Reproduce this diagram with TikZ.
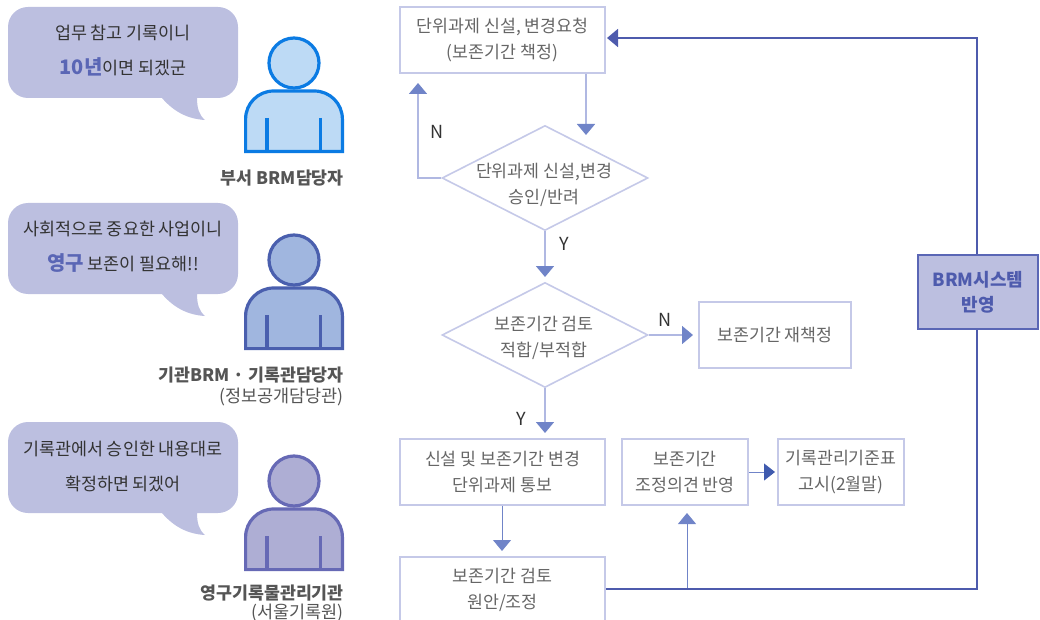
\documentclass[tikz,border=0pt]{standalone}
\usepackage{fontspec}
\setmainfont{Noto Sans CJK KR}
\usetikzlibrary{arrows.meta,shapes.geometric}
\definecolor{bub}{HTML}{BCBFE0}
\definecolor{hi}{HTML}{5A66B5}
\definecolor{boxline}{HTML}{C5C9E8}
\definecolor{txt}{HTML}{666666}
\definecolor{lab}{HTML}{555555}
\definecolor{tipc}{HTML}{7084C8}
\definecolor{linec}{HTML}{B0B8E2}
\definecolor{dark}{HTML}{4E5BAD}
\definecolor{tipdark}{HTML}{3F5AAE}
\definecolor{pAs}{HTML}{0B7BE3}\definecolor{pAf}{HTML}{BDDAF5}
\definecolor{pBs}{HTML}{4A5FAE}\definecolor{pBf}{HTML}{A0B6DF}
\definecolor{pCs}{HTML}{6669B5}\definecolor{pCf}{HTML}{AEAED4}
\newcommand{\hifont}{\bfseries\fontsize{20}{20}\selectfont\color{hi}}
\newcommand{\personicon}[4]{% y of head centre, stroke, fill, name
  \node[circle,draw=#2,fill=#3,line width=3.2pt,minimum size=50pt,inner sep=0pt] (#4) at (294,#1) {};
  \draw[draw=#2,fill=#3,line width=3.2pt,rounded corners=28pt]
    (245.6,#1+88.6) -- (245.6,#1+28) -- (342.4,#1+28) [sharp corners] -- (342.4,#1+88.6) -- cycle;
  \draw[draw=#2,line width=3.2pt] (267,#1+55) -- (267,#1+88) (320.5,#1+55) -- (320.5,#1+88);
}
\tikzset{
  x=1pt,y=-1pt,
  flowbox/.style={rectangle,draw=boxline,line width=1.8pt,fill=white,align=center,text=txt,inner sep=0pt,
    font=\fontsize{17.3}{26}\selectfont},
  decide/.style={diamond,draw=boxline,line width=1.6pt,fill=white,aspect=1.96,inner sep=0pt,
    minimum width=206pt,minimum height=105pt},
  decidetext/.style={align=center,text=txt,inner sep=0pt,font=\fontsize{17.3}{26}\selectfont},
  conn/.style={draw=linec,line width=1.6pt,-{Triangle[width=18pt,length=11pt,color=tipc]}},
  connthin/.style={draw=tipc,line width=1pt,-{Triangle[width=18pt,length=11pt,color=tipc]}},
  bubbletext/.style={align=center,text=black!80,inner sep=0pt,font=\fontsize{17.4}{35}\selectfont},
  role/.style={anchor=east,align=right,text=lab,inner sep=0pt,font=\bfseries\fontsize{17.3}{20}\selectfont},
  rolesub/.style={anchor=east,align=right,text=lab,inner sep=0pt,font=\fontsize{17.5}{20}\selectfont},
  yn/.style={text=black!80,inner sep=0pt,font=\fontsize{18}{18}\selectfont},
  bubble/.style={fill=bub,draw=none},
}
\begin{document}
\begin{tikzpicture}
\useasboundingbox (0,0) rectangle (1040,620);
% bubbles
\foreach \ya in {7,203,422}{
  \fill[bubble] (100,\ya) [rounded corners=20pt] -- (238,\ya) -- (238,\ya+91) [sharp corners] -- (197,\ya+91)
    .. controls (197,\ya+101) and (199,\ya+108) .. (205,\ya+113)
    .. controls (188,\ya+112) and (174,\ya+105) .. (162,\ya+91) [rounded corners=20pt] -- (8,\ya+91) -- (8,\ya) -- cycle;
}
\node[bubbletext] (say1) at (123,51) {업무 참고 기록이니\\{\hifont 10년}이면 되겠군};
\node[bubbletext] (say2) at (123,247) {사회적으로 중요한 사업이니\\{\hifont 영구} 보존이 필요해!!};
\node[bubbletext] (say3) at (123,467) {기록관에서 승인한 내용대로\\확정하면 되겠어};
% people
\personicon{63}{pAs}{pAf}{pa}
\personicon{260}{pBs}{pBf}{pb}
\personicon{481}{pCs}{pCf}{pc}
\node[role] (rolea) at (344,178) {부서 BRM담당자};
\node[role] (roleb) at (344,375) {기관BRM · 기록관담당자};
\node[rolesub] (roleb2) at (344,397) {(정보공개담당관)};
\node[role] (rolec) at (344,593) {영구기록물관리기관};
\node[rolesub] (rolec2) at (344,613) {(서울기록원)};
% flow nodes
\node[flowbox,minimum width=205pt,minimum height=66pt] (req) at (502.5,40) {단위과제 신설, 변경요청\\(보존기간 책정)};
\node[decide] (d1) at (545,178) {};
\node[decidetext] (d1t) at (544,185) {단위과제 신설,변경\\승인/반려};
\node[decide] (d2) at (545,335) {};
\node[decidetext] (d2t) at (544,338) {보존기간 검토\\적합/부적합};
\node[flowbox,minimum width=152pt,minimum height=66pt] (redo) at (775,335) {보존기간 재책정};
\node[flowbox,minimum width=205pt,minimum height=66pt] (notice) at (502.5,472) {신설 및 보존기간 변경\\단위과제 통보};
\node[flowbox,minimum width=126pt,minimum height=66pt] (adjust) at (685,472) {보존기간\\조정의견 반영};
\node[flowbox,minimum width=126pt,minimum height=66pt] (pub) at (841,472) {기록관리기준표\\고시(2월말)};
\node[flowbox,minimum width=205pt,minimum height=66pt] (draft) at (502.5,590) {보존기간 검토\\원안/조정};
\node[rectangle,draw=hi,line width=1.8pt,fill=bub,minimum width=120pt,minimum height=74pt,align=center,
  text=dark,inner sep=0pt,font=\bfseries\fontsize{18}{25}\selectfont] (brm) at (978,292) {BRM시스템\\반영};
% free ends
\coordinate (t1) at (586,135);
\coordinate (t2) at (418,83);
\coordinate (t3) at (545,277);
\coordinate (t4) at (693,335);
\coordinate (t5) at (545,433);
\coordinate (t6) at (502,551);
\coordinate (t7) at (607,38);
\coordinate (t8) at (687,513);
\coordinate (t9) at (775,472);
\coordinate (turn) at (977,589);
\coordinate (branch) at (687,589);
% connectors
\draw[conn] (req.south -| t1) -- (t1);
\draw[conn] (d1.west) -| (t2);
\draw[conn] (d1.south) -- (t3);
\draw[conn] (d2.east) -- (t4);
\draw[conn] (d2.south) -- (t5);
\draw[connthin] (notice.south -| t6) -- (t6);
\draw[connthin] (branch) -- (t8);
\draw[draw=tipc,line width=1pt,-{Triangle[width=17pt,length=11pt,color=tipdark]}] (adjust.east |- t9) -- (t9);
\draw[draw=dark,line width=1.6pt] (draft.east |- turn) -- (turn) -- (brm.south -| turn);
\draw[draw=dark,line width=1.6pt,-{Triangle[width=18pt,length=11pt,color=dark]}] (brm.north -| turn) |- (t7);
% labels
\node[yn] (n1) at (437,132) {N};
\node[yn] (y1) at (564,244) {Y};
\node[yn] (n2) at (665,320) {N};
\node[yn] (y2) at (521,419) {Y};
\end{tikzpicture}
\end{document}
